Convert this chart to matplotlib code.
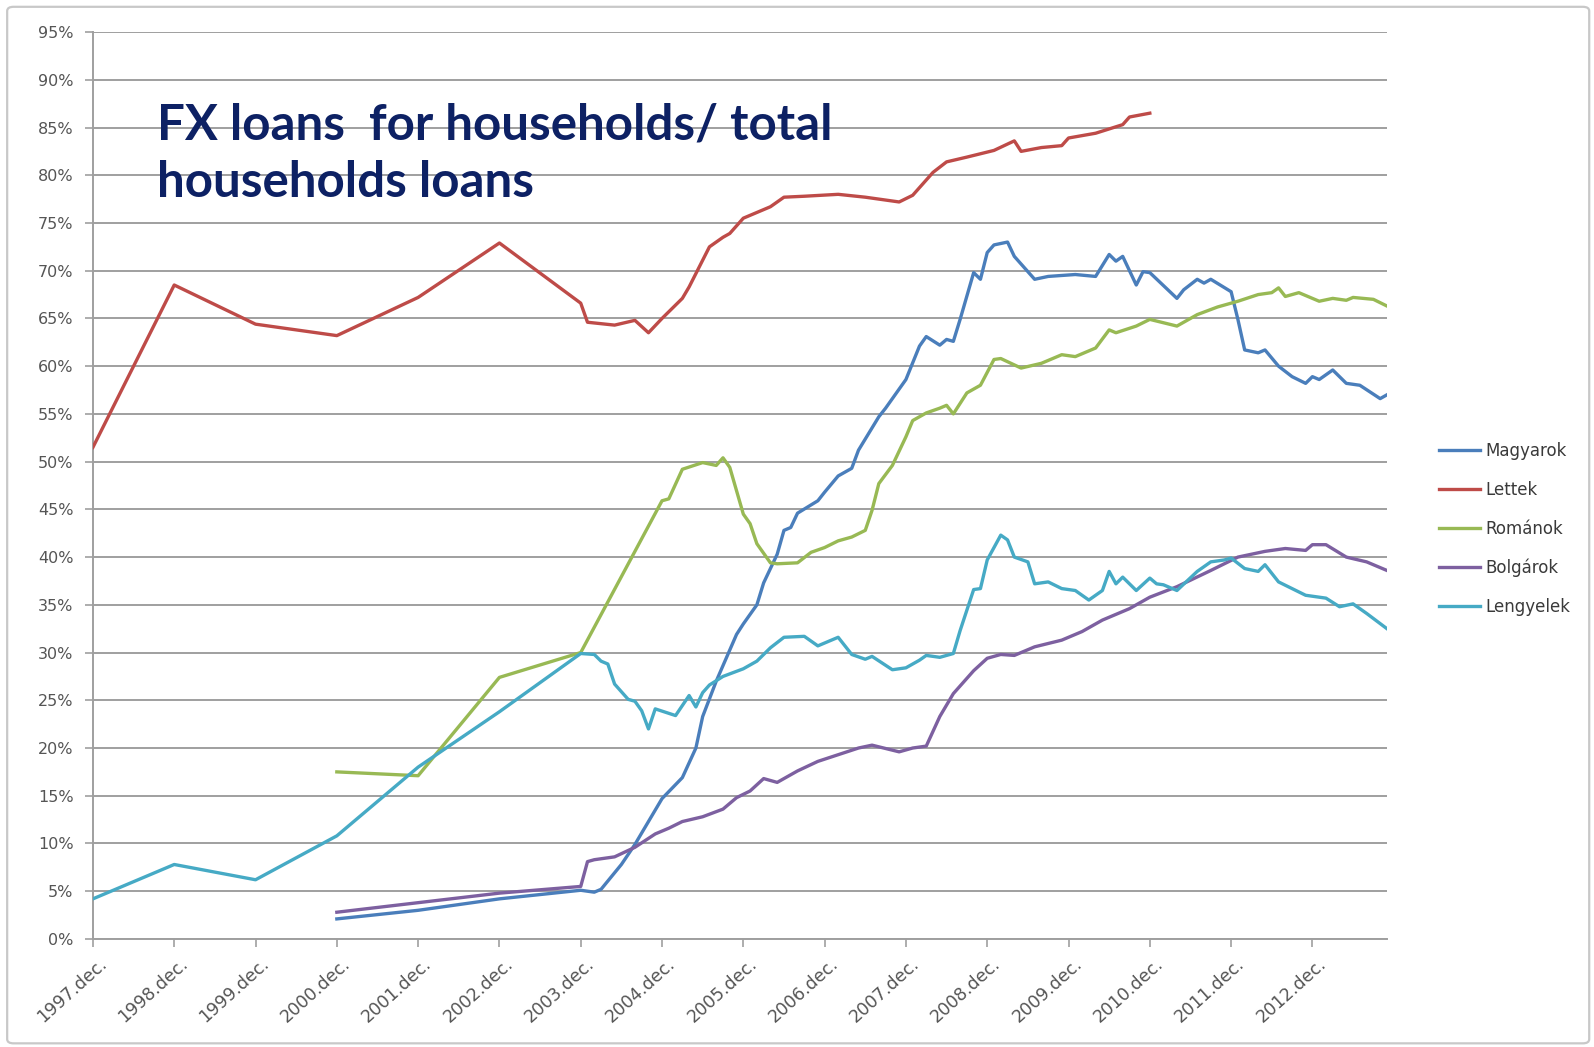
import matplotlib
matplotlib.use("Agg")
import matplotlib.pyplot as plt
import matplotlib.transforms as mtransforms
from matplotlib.patches import FancyBboxPatch

# months counted from 1997 december; yearly points first, monthly later
tick_labels = [f"{y}.dec." for y in range(1997, 2013)]
tick_months = [12 * i for i in range(len(tick_labels))]

magyarok_m = [36, 48, 60, 72, 74, 75, 78, 80, 84, 87, 89, 90, 92, 95, 96, 98, 99, 101, 102, 103,
              104, 107, 108, 110, 112, 113, 116, 117, 120, 122, 123, 125, 126, 127, 128, 130, 131,
              132, 133, 135, 136, 139, 141, 145, 148, 150, 151, 152, 154, 155, 156, 160, 161, 163,
              164, 165, 168, 169, 170, 172, 173, 175, 177, 179, 180, 181, 183, 185, 187, 190, 191]
magyarok_v = [2.1, 3.0, 4.2, 5.1, 4.9, 5.2, 7.8, 9.9, 14.7, 16.9, 20.0, 23.3, 27.0, 31.9, 33.0, 35.0,
              37.3, 40.3, 42.8, 43.1, 44.6, 45.9, 46.8, 48.5, 49.3, 51.2, 54.7, 55.6, 58.6, 62.1, 63.1,
              62.2, 62.8, 62.6, 64.9, 69.8, 69.1, 71.9, 72.7, 73.0, 71.5, 69.1, 69.4, 69.6, 69.4, 71.7,
              71.0, 71.5, 68.5, 69.9, 69.8, 67.1, 68.0, 69.1, 68.7, 69.1, 67.8, 64.9, 61.7, 61.4, 61.7,
              60.0, 58.9, 58.2, 58.9, 58.6, 59.6, 58.2, 58.0, 56.6, 57.0]

lettek_m = [0, 12, 24, 36, 48, 60, 72, 73, 77, 80, 82, 84, 87, 88, 91, 93, 94, 96, 100, 102, 105, 110,
            114, 119, 121, 124, 126, 129, 133, 136, 137, 140, 143, 144, 148, 152, 153, 156]
lettek_v = [51.5, 68.5, 64.4, 63.2, 67.2, 72.9, 66.6, 64.6, 64.3, 64.8, 63.5, 65.0, 67.1, 68.3, 72.5,
            73.5, 73.9, 75.5, 76.7, 77.7, 77.8, 78.0, 77.7, 77.2, 77.9, 80.3, 81.4, 81.9, 82.6, 83.6,
            82.5, 82.9, 83.1, 83.9, 84.4, 85.3, 86.1, 86.5]

romanok_m = [36, 48, 60, 72, 84, 85, 87, 90, 92, 93, 94, 96, 97, 98, 100, 101, 104, 106, 108, 110, 112,
             114, 115, 116, 118, 120, 121, 123, 125, 126, 127, 129, 131, 133, 134, 137, 140, 143, 145,
             148, 150, 151, 154, 156, 160, 163, 166, 169, 172, 174, 175, 176, 178, 181, 183, 185, 186,
             189, 191]
romanok_v = [17.5, 17.1, 27.4, 30.0, 45.9, 46.1, 49.2, 49.9, 49.6, 50.4, 49.4, 44.5, 43.5, 41.4, 39.4,
             39.3, 39.4, 40.5, 41.0, 41.7, 42.1, 42.8, 44.9, 47.7, 49.6, 52.6, 54.3, 55.1, 55.6, 55.9,
             55.0, 57.2, 58.0, 60.7, 60.8, 59.8, 60.3, 61.2, 61.0, 61.9, 63.8, 63.5, 64.2, 64.9, 64.2,
             65.4, 66.2, 66.8, 67.5, 67.7, 68.2, 67.3, 67.7, 66.8, 67.1, 66.9, 67.2, 67.0, 66.3]

bolgarok_m = [36, 48, 60, 72, 73, 74, 77, 80, 83, 85, 87, 90, 93, 95, 97, 99, 101, 104, 107, 110, 113,
              115, 119, 121, 123, 125, 127, 130, 132, 134, 136, 139, 143, 146, 149, 153, 156, 160, 165,
              169, 173, 176, 179, 180, 182, 185, 188, 191]
bolgarok_v = [2.8, 3.8, 4.8, 5.5, 8.1, 8.3, 8.6, 9.6, 11.0, 11.6, 12.3, 12.8, 13.6, 14.8, 15.5, 16.8,
              16.4, 17.6, 18.6, 19.3, 20.0, 20.3, 19.6, 20.0, 20.2, 23.3, 25.7, 28.1, 29.4, 29.8, 29.7,
              30.6, 31.3, 32.2, 33.4, 34.6, 35.8, 36.9, 38.6, 40.0, 40.6, 40.9, 40.7, 41.3, 41.3, 40.0,
              39.5, 38.6]

lengyelek_m = [0, 12, 24, 36, 48, 60, 72, 74, 75, 76, 77, 79, 80, 81, 82, 83, 86, 88, 89, 90, 91, 93,
               96, 98, 100, 102, 105, 107, 110, 112, 114, 115, 118, 120, 122, 123, 125, 127, 128, 130,
               131, 132, 134, 135, 136, 138, 139, 141, 143, 145, 147, 149, 150, 151, 152, 154, 156, 157,
               158, 160, 163, 165, 167, 168, 170, 172, 173, 175, 177, 179, 182, 184, 186, 188, 191]
lengyelek_v = [4.2, 7.8, 6.2, 10.8, 18.0, 23.8, 29.9, 29.8, 29.1, 28.8, 26.7, 25.1, 24.9, 23.9, 22.0,
               24.1, 23.4, 25.5, 24.3, 25.8, 26.6, 27.5, 28.3, 29.1, 30.5, 31.6, 31.7, 30.7, 31.6, 29.8,
               29.3, 29.6, 28.2, 28.4, 29.2, 29.7, 29.5, 29.9, 32.3, 36.6, 36.7, 39.7, 42.3, 41.8, 40.0,
               39.5, 37.2, 37.4, 36.7, 36.5, 35.5, 36.5, 38.5, 37.2, 37.9, 36.5, 37.8, 37.2, 37.1, 36.5,
               38.5, 39.5, 39.7, 39.9, 38.8, 38.5, 39.2, 37.4, 36.7, 36.0, 35.7, 34.8, 35.1, 34.1, 32.5]

series = [
    ("Magyarok", magyarok_m, magyarok_v, "#4a7ebb"),
    ("Lettek", lettek_m, lettek_v, "#be4b48"),
    ("Románok", romanok_m, romanok_v, "#98b954"),
    ("Bolgárok", bolgarok_m, bolgarok_v, "#7d60a0"),
    ("Lengyelek", lengyelek_m, lengyelek_v, "#46aac5"),
]

fig = plt.figure(figsize=(15.94, 10.47), dpi=100)
ax = fig.add_axes([0.0583, 0.1032, 0.8118, 0.8662])

grid_col = "#9f9f9f"
for pct in range(0, 100, 5):
    ax.axhline(pct, color=grid_col, lw=1.4, zorder=1)

for name, m, v, col in series:
    ax.plot(m, v, color=col, lw=2.4, label=name, zorder=3, solid_joinstyle="round")

ax.set_xlim(0, 191)
ax.set_ylim(0, 95)
ax.set_yticks(range(0, 100, 5))
ax.set_yticklabels([f"{p}%" for p in range(0, 100, 5)])
ax.set_xticks(tick_months)
ax.set_xticklabels(tick_labels, rotation=42, ha="right", va="center", rotation_mode="anchor")

for s in ["top", "right"]:
    ax.spines[s].set_visible(False)
for s in ["left", "bottom"]:
    ax.spines[s].set_color(grid_col)
    ax.spines[s].set_linewidth(1.4)

ax.tick_params(axis="both", colors=grid_col, length=6, width=1.2, labelcolor="#555555", labelsize=11.5)
ax.tick_params(axis="x", pad=10, labelsize=12.5)
ax.tick_params(axis="y", pad=8)

# Excel-style rotated labels sit a little right of their tick
shift = mtransforms.ScaledTranslation(0.11, 0.0, fig.dpi_scale_trans)
for lbl in ax.get_xticklabels():
    lbl.set_transform(lbl.get_transform() + shift)

ax.text(0.0985, 0.902, "FX loans  for households/ total\nhouseholds loans",
        transform=fig.transFigure, ha="left", va="top", fontsize=35.5, fontweight="bold",
        family="Lato", color="#0d2164", linespacing=1.33)

ax.legend(loc="center left", bbox_to_anchor=(0.9025, 0.4947), bbox_transform=fig.transFigure,
          frameon=False, fontsize=12, handlelength=2.5, handletextpad=0.3, labelspacing=1.26,
          borderpad=0, borderaxespad=0, labelcolor="#3a3a3a")

border = FancyBboxPatch((0.0045, 0.0035), 0.9925, 0.99, boxstyle="round,pad=0,rounding_size=0.004",
                        transform=fig.transFigure, fc="none", ec="#c8c8c8", lw=1.6)
fig.patches.append(border)

fig.savefig("out.png", dpi=100, facecolor="white")
